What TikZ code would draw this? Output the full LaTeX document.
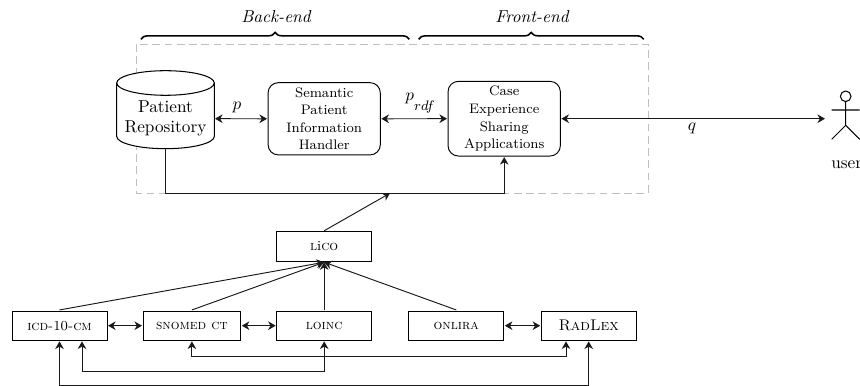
\documentclass[tikz,border=0pt]{standalone}
\usetikzlibrary{decorations.pathreplacing,calc,arrows.meta}
\def\u{0.58pt}
\tikzset{
  x=0.58pt,y=-0.58pt,
  >={Stealth[length=4.4pt,width=5pt,inset=1.4pt]},
  conn/.style={draw=black!90,line width=0.55pt},
  onto/.style={draw,rectangle,line width=0.55pt,minimum width=95*\u,minimum height=29.4*\u,inner sep=0pt,outer sep=0.6pt,font=\footnotesize},
  rbox/.style={draw,rectangle,rounded corners=6pt,line width=0.55pt,minimum width=112.3*\u,align=center,inner sep=0pt,outer sep=0.6pt,font=\fontsize{8}{10.2}\selectfont},
  bracelab/.style={font=\itshape,inner sep=0pt},
  brc/.style={decorate,decoration={brace,amplitude=4pt},line width=0.9pt},
  edgelab/.style={inner sep=0pt},
  actor/.style={line width=0.6pt},
  cyl/.style={line width=0.6pt}
}
\begin{document}
\begin{tikzpicture}
\useasboundingbox (0,0) rectangle (860,386);
% container
\draw[gray!50,line width=0.5pt,dash pattern=on 4.5pt off 2.6pt] (136.7,44) rectangle (648,193.2);
% top row
\node[rectangle,minimum width=97.6*\u,minimum height=78*\u,inner sep=0pt,outer sep=0pt] (repo) at (165.5,109.7) {};
\draw[cyl,fill=white] ($(repo.north west)+(0,12.3)$) arc[start angle=180,end angle=0,x radius=48.8*\u,y radius=12.3*\u] -- ($(repo.south east)+(0,-12.3)$) arc[start angle=360,end angle=180,x radius=48.8*\u,y radius=12.3*\u] -- cycle;
\draw[cyl] ($(repo.north west)+(0,12.3)$) arc[start angle=180,end angle=360,x radius=48.8*\u,y radius=12.3*\u];
\node[inner sep=0pt,align=center] (repotext) at (165.5,118.5) {Patient\\Repository};
\node[rbox,minimum height=72.3*\u] (sem) at (324.2,118.8) {Semantic\\Patient\\Information\\Handler};
\node[rbox,minimum height=74.7*\u] (case) at (504.2,118.7) {Case\\Experience\\Sharing\\Applications};
% actor
\node[draw,circle,minimum size=10.6*\u,inner sep=0pt,actor] (head) at (845.7,96.3) {};
\coordinate (usr) at (825,118.7);
\coordinate (hip) at (845.7,125.3);
\coordinate (armL) at (831.7,110);
\coordinate (armR) at (859.7,110);
\coordinate (legL) at (831.7,139.3);
\coordinate (legR) at (859.7,139.3);
\draw[actor] (head.south) -- (hip) (armL) -- (armR) (legL) -- (hip) -- (legR);
\node[inner sep=0pt,anchor=west] (user) at (831,165) {user};
% top connectors
\coordinate (repoE) at (215,118.7);
\draw[conn,<->] (repoE) -- (sem.west);
\draw[conn,<->] (sem.east) -- (case.west);
\draw[conn,<->] (case.east) -- (usr);
\node[edgelab] (p) at (237,107) {$p$};
\node[edgelab,anchor=base west] (prdf) at (405,101) {$p$\raisebox{-5.8pt}{\footnotesize$rdf$}};
\node[edgelab] (q) at (692,128.5) {$q$};
% braces
\coordinate (b1) at (141,39.3);
\coordinate (b2) at (409.3,39.3);
\coordinate (f1) at (418.7,39.3);
\coordinate (f2) at (643.7,39.3);
\draw[brc] (b1) -- (b2);
\draw[brc] (f1) -- (f2);
\node[bracelab] (back) at (276,17) {Back-end};
\node[bracelab] (front) at (532,17) {Front-end};
% repository to applications
\draw[conn,->] (repo.south) -- (repo.south |- 0,193.2) -| (case.south);
% bottom
\node[onto] (lico) at (324.2,246.5) {\textsc{l}i\textsc{co}};
\node[onto] (icd) at (59.5,325.7) {\textsc{icd-}10\textsc{-cm}};
\node[onto,minimum width=97.7*\u] (snomed) at (191.9,325.7) {\textsc{snomed ct}};
\node[onto] (loinc) at (324.2,325.7) {\textsc{loinc}};
\node[onto] (onlira) at (456.3,325.7) {\textsc{onlira}};
\node[onto,font=\small] (radlex) at (588.7,325.7) {\textsc{RadLex}};
\coordinate (hub) at (390,193.2);
\draw[conn,->] (lico.north) -- (hub);
\draw[conn,->] (icd.north) -- (lico.south);
\draw[conn,->] (snomed.north) -- (lico.south);
\draw[conn,->] (loinc.north) -- (lico.south);
\draw[conn,->] (onlira.north) -- (lico.south);
\draw[conn,<->] (icd.east) -- (snomed.west);
\draw[conn,<->] (snomed.east) -- (loinc.west);
\draw[conn,<->] (onlira.east) -- (radlex.west);
\draw[conn,<->] (snomed.south) -- ++(0,15) -| ([xshift=-22.7*\u]radlex.south);
\draw[conn,<->] ([xshift=22.5*\u]icd.south) -- ($(icd.south)+(22.5,30.3)$) -| (loinc.south);
\draw[conn,<->] (icd.south) -- ++(0,44.5) -| (radlex.south);
\end{tikzpicture}
\end{document}
